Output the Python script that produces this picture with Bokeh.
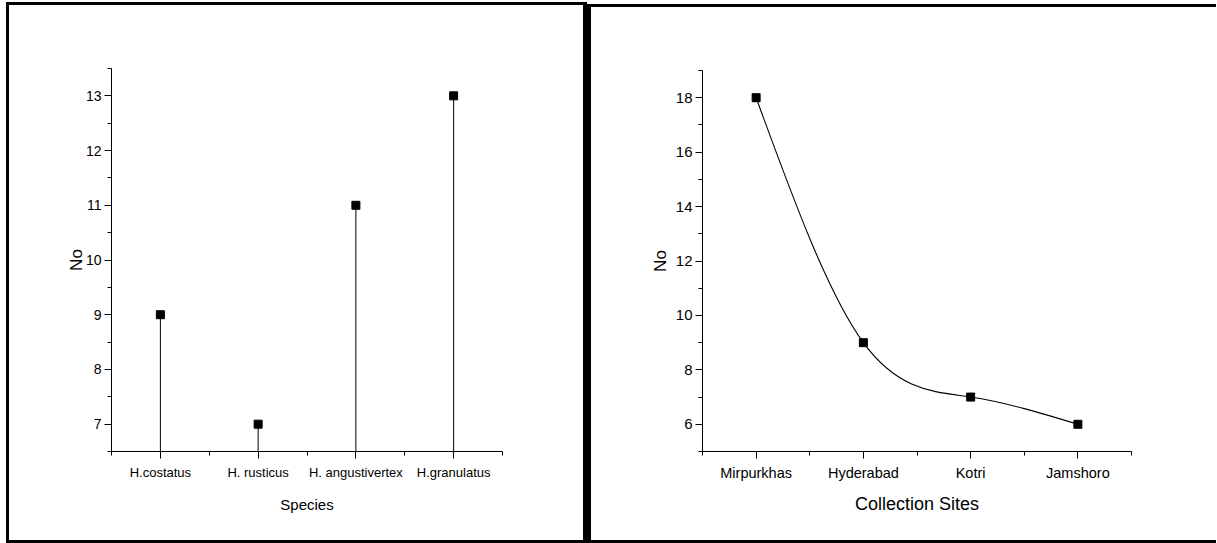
import numpy as np
from bokeh.plotting import figure
from bokeh.layouts import row
from bokeh.models import FixedTicker, Range1d
from bokeh.embed import file_html
from bokeh.resources import INLINE

# ---- data ----
species = ["H.costatus", "H. rusticus", "H. angustivertex", "H.granulatus"]
species_counts = [9, 7, 11, 13]
sites = ["Mirpurkhas", "Hyderabad", "Kotri", "Jamshoro"]
site_counts = [18, 9, 7, 6]
left_yticks = [7, 8, 9, 10, 11, 12, 13]
right_yticks = [6, 8, 10, 12, 14, 16, 18]

FONT = "Liberation Sans"


def style(p, xtick_size, ytick_size, title_size, ylab_size, xstand, ystand):
    p.grid.visible = False
    p.outline_line_color = None
    p.background_fill_color = None
    p.border_fill_color = None
    for ax in (p.xaxis[0], p.yaxis[0]):
        ax.axis_line_color = "black"
        ax.axis_line_width = 1
        ax.major_tick_line_color = "black"
        ax.minor_tick_line_color = "black"
        ax.major_tick_out = 7
        ax.major_tick_in = 0
        ax.minor_tick_out = 4
        ax.minor_tick_in = 0
        ax.major_label_text_font = FONT
        ax.major_label_text_color = "black"
        ax.axis_label_text_font = FONT
        ax.axis_label_text_font_style = "normal"
        ax.axis_label_text_color = "black"
    p.xaxis[0].major_label_text_font_size = xtick_size
    p.yaxis[0].major_label_text_font_size = ytick_size
    p.xaxis[0].axis_label_text_font_size = title_size
    p.yaxis[0].axis_label_text_font_size = ylab_size
    p.xaxis[0].major_label_standoff = 6
    p.yaxis[0].major_label_standoff = 3
    p.xaxis[0].axis_label_standoff = xstand
    p.yaxis[0].axis_label_standoff = ystand


# ---- left panel ----
xs_l = list(range(1, len(species) + 1))
left = figure(width=581, height=541, output_backend="svg", toolbar_location=None,
              x_range=Range1d(0.5, len(species) + 0.5), y_range=Range1d(6.5, 13.5),
              min_border_left=102, min_border_right=88, min_border_top=63, min_border_bottom=95,
              x_axis_label="Species", y_axis_label="No")
style(left, "13px", "14px", "15px", "17px", 13, -3)
left.xaxis[0].ticker = FixedTicker(ticks=xs_l, minor_ticks=[x - 0.5 for x in xs_l] + [xs_l[-1] + 0.5])
left.xaxis[0].major_label_overrides = {x: s for x, s in zip(xs_l, species)}
left.yaxis[0].ticker = FixedTicker(ticks=left_yticks,
                                   minor_ticks=[t - 0.5 for t in left_yticks] + [left_yticks[-1] + 0.5])
base = left.y_range.start
left.segment(x0=xs_l, y0=[base] * len(xs_l), x1=xs_l, y1=species_counts, line_color="black", line_width=1)
left.scatter(xs_l, species_counts, marker="square", size=8, fill_color="black", line_color="black")
left.styles = {"border-left": "3px solid black", "border-top": "3px solid black",
               "border-bottom": "3px solid black", "border-right": "4px solid black",
               "margin-left": "6px", "margin-top": "2px"}

# ---- right panel ----
xs_r = np.arange(1, len(sites) + 1, dtype=float)
ys_r = np.array(site_counts, dtype=float)
right = figure(width=629, height=539, output_backend="svg", toolbar_location=None,
               x_range=Range1d(0.5, len(sites) + 0.5), y_range=Range1d(5, 19),
               min_border_left=111, min_border_right=89, min_border_top=61, min_border_bottom=95,
               x_axis_label="Collection Sites", y_axis_label="No")
style(right, "14.5px", "15px", "18px", "17px", 10, 3)
right.xaxis[0].ticker = FixedTicker(ticks=list(xs_r), minor_ticks=list(xs_r - 0.5) + [xs_r[-1] + 0.5])
right.xaxis[0].major_label_overrides = {int(x): s for x, s in zip(xs_r, sites)}
right.yaxis[0].ticker = FixedTicker(ticks=right_yticks,
                                    minor_ticks=[t - 1 for t in right_yticks] + [right_yticks[-1] + 1])

# natural cubic spline through the points, drawn as Bezier segments
n = len(xs_r)
h = np.diff(xs_r)
A = np.zeros((n, n))
b = np.zeros(n)
A[0, 0] = 1
A[-1, -1] = 1
for i in range(1, n - 1):
    A[i, i - 1] = h[i - 1]
    A[i, i] = 2 * (h[i - 1] + h[i])
    A[i, i + 1] = h[i]
    b[i] = 6 * ((ys_r[i + 1] - ys_r[i]) / h[i] - (ys_r[i] - ys_r[i - 1]) / h[i - 1])
M = np.linalg.solve(A, b)
x0, y0, x1, y1, cx0, cy0, cx1, cy1 = [], [], [], [], [], [], [], []
for i in range(n - 1):
    hi = h[i]
    d = (ys_r[i + 1] - ys_r[i]) / hi
    s0 = d - hi * (2 * M[i] + M[i + 1]) / 6
    s1 = d + hi * (M[i] + 2 * M[i + 1]) / 6
    x0.append(xs_r[i]); y0.append(ys_r[i])
    x1.append(xs_r[i + 1]); y1.append(ys_r[i + 1])
    cx0.append(xs_r[i] + hi / 3); cy0.append(ys_r[i] + hi * s0 / 3)
    cx1.append(xs_r[i + 1] - hi / 3); cy1.append(ys_r[i + 1] - hi * s1 / 3)
right.bezier(x0=x0, y0=y0, x1=x1, y1=y1, cx0=cx0, cy0=cy0, cx1=cx1, cy1=cy1,
             line_color="black", line_width=1.1)
right.scatter(list(xs_r), site_counts, marker="square", size=8, fill_color="black", line_color="black")
right.styles = {"border-left": "4px solid black", "border-top": "3px solid black",
                "border-bottom": "3px solid black", "margin-top": "4px"}

layout = row(left, right, spacing=0)
open("out.html", "w").write(file_html(layout, INLINE))
